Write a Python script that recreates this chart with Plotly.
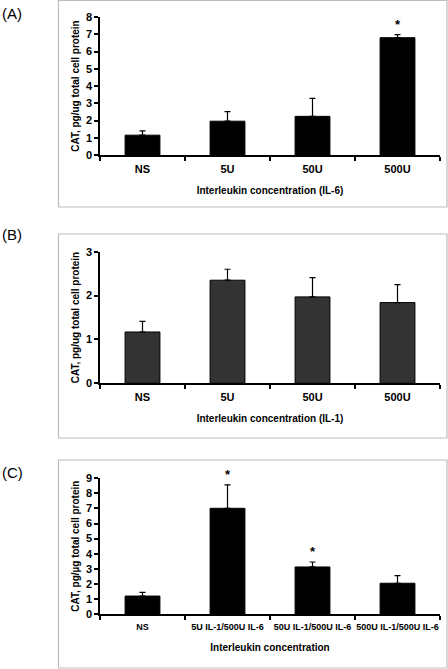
import plotly.graph_objects as go

# Panel A data (IL-6)
cats_a = ["NS", "5U", "50U", "500U"]
vals_a = [1.15, 1.96, 2.24, 6.80]
errs_a = [0.25, 0.55, 1.04, 0.18]
star_a = [False, False, False, True]

# Panel B data (IL-1)
cats_b = ["NS", "5U", "50U", "500U"]
vals_b = [1.17, 2.35, 1.97, 1.84]
errs_b = [0.24, 0.25, 0.44, 0.41]
star_b = [False, False, False, False]

# Panel C data (combination)
cats_c = ["NS", "5U IL-1/500U IL-6", "50U IL-1/500U IL-6", "500U IL-1/500U IL-6"]
vals_c = [1.19, 7.01, 3.12, 2.04]
errs_c = [0.25, 1.55, 0.33, 0.50]
star_c = [False, True, True, False]

W, H = 448, 669
FONT = "Liberation Sans, Arial, sans-serif"

panels = [
    dict(cats=cats_a, vals=vals_a, errs=errs_a, stars=star_a, color="#000000",
         yrange=8, dtick=1, ypx=(17, 155), box=(0.5, 207), label="(A)", labely=13,
         xtitle="Interleukin concentration (IL-6)", tsize=11,
         ytitle="CAT, pg/ug total cell protein"),
    dict(cats=cats_b, vals=vals_b, errs=errs_b, stars=star_b, color="#333333",
         yrange=3, dtick=1, ypx=(251.7, 383.3), box=(234, 438), label="(B)", labely=235,
         xtitle="Interleukin concentration (IL-1)", tsize=11,
         ytitle="CAT, pg/ug total cell protein"),
    dict(cats=cats_c, vals=vals_c, errs=errs_c, stars=star_c, color="#000000",
         yrange=9, dtick=1, ypx=(478.3, 614), box=(460, 668), label="(C)", labely=472,
         xtitle="Interleukin concentration", tsize=9,
         ytitle="CAT, pg/µg total cell protein"),
]

fig = go.Figure()
layout = dict(width=W, height=H, margin=dict(l=0, r=0, t=0, b=0, autoexpand=False),
              paper_bgcolor="white", plot_bgcolor="white", showlegend=False,
              font=dict(family=FONT, color="black"), shapes=[], annotations=[])

for i, p in enumerate(panels):
    n = "" if i == 0 else str(i + 1)
    xa, ya = "x" + n, "y" + n
    fig.add_trace(go.Bar(
        x=p["cats"], y=p["vals"], xaxis=xa, yaxis=ya, width=0.41,
        marker=dict(color=p["color"], line=dict(color="black", width=1)),
        error_y=dict(type="data", array=p["errs"], symmetric=False,
                     arrayminus=[0] * len(p["errs"]), color="black",
                     thickness=1.2, width=3),
    ))
    y_top, y_bot = p["ypx"]
    layout["xaxis" + n] = dict(
        domain=[100 / W, 440 / W], anchor=ya, type="category",
        range=[-0.5, len(p["cats"]) - 0.5], tickson="boundaries",
        ticks="outside", ticklen=4, tickwidth=1.5, tickcolor="black",
        showline=True, linecolor="black", linewidth=1.5, showgrid=False,
        tickangle=0, automargin=False, ticklabelstandoff=3,
        tickfont=dict(size=p["tsize"], family=FONT, color="black"),
        title=dict(text="<b>" + p["xtitle"] + "</b>", font=dict(size=10), standoff=13),
        tickprefix="<b>", ticksuffix="</b>", zeroline=False,
    )
    layout["yaxis" + n] = dict(
        domain=[1 - y_bot / H, 1 - y_top / H], anchor=xa,
        range=[0, p["yrange"]], dtick=p["dtick"], tick0=0, automargin=False,
        ticks="outside", ticklen=4, tickwidth=1.5, tickcolor="black",
        showline=True, linecolor="black", linewidth=1.5, showgrid=False,
        zeroline=False, tickfont=dict(size=11, family=FONT, color="black"),
        tickprefix="<b>", ticksuffix="</b>",
        title=dict(text="<b>" + p["ytitle"] + "</b>", font=dict(size=10), standoff=4),
    )
    b0, b1 = p["box"]
    layout["shapes"].append(dict(type="rect", xref="paper", yref="paper",
                                 x0=58.5 / W, x1=447 / W, y0=1 - b1 / H, y1=1 - b0 / H,
                                 line=dict(color="#bdbdbd", width=1.2)))
    layout["annotations"].append(dict(text=p["label"], xref="paper", yref="paper",
                                      x=0, y=1 - p["labely"] / H, xanchor="left",
                                      yanchor="middle", showarrow=False,
                                      font=dict(size=15, family=FONT, color="black")))
    for c, v, e, s in zip(p["cats"], p["vals"], p["errs"], p["stars"]):
        if s:
            layout["annotations"].append(dict(text="<b>*</b>", x=c, y=v + e,
                                              xref=xa, yref=ya, showarrow=False,
                                              yanchor="bottom", yshift=1,
                                              font=dict(size=13, color="black")))

fig.update_layout(**layout)
fig.write_html("out.html", config={"displayModeBar": False},
               post_script="document.body.style.margin='0';document.body.style.overflow='hidden';")
